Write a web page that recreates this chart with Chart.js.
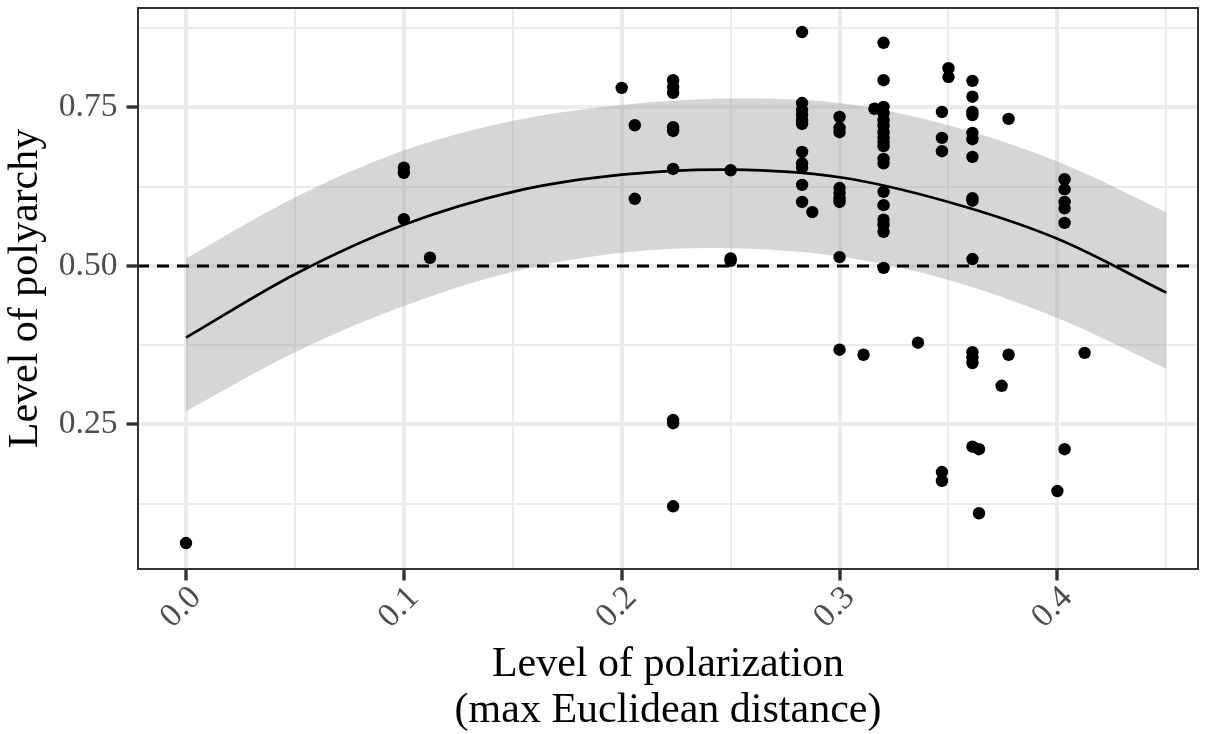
<!DOCTYPE html>
<html lang="en">
<head>
<meta charset="UTF-8" />
<title>Polarization and polyarchy</title>
<script src="https://cdn.jsdelivr.net/npm/chart.js"></script>
<style>
  body { margin: 0; background: #fff; }
  #wrap { width: 1214px; height: 734px; }
</style>
</head>
<body>
<div id="wrap"><canvas id="mainChart"></canvas></div>
<script>
  const polarization = [
    0.0,
    0.1, 0.1, 0.1,
    0.112,
    0.2,
    0.206, 0.206,
    0.2236, 0.2236, 0.2236, 0.2236, 0.2236, 0.2236, 0.2236, 0.2236, 0.2236,
    0.25, 0.25, 0.25,
    0.2828, 0.2828, 0.2828, 0.2828, 0.2828, 0.2828, 0.2828, 0.2828, 0.2828, 0.2828, 0.2828,
    0.2875,
    0.3, 0.3, 0.3, 0.3, 0.3, 0.3, 0.3, 0.3, 0.3,
    0.311,
    0.316,
    0.3202, 0.3202, 0.3202, 0.3202, 0.3202, 0.3202, 0.3202, 0.3202, 0.3202,
    0.3202, 0.3202, 0.3202, 0.3202, 0.3202, 0.3202, 0.3202, 0.3202, 0.3202,
    0.336,
    0.347, 0.347, 0.347, 0.347, 0.347,
    0.350, 0.350,
    0.361, 0.361, 0.361, 0.361, 0.361, 0.361, 0.361, 0.361, 0.361, 0.361, 0.361, 0.361, 0.361, 0.361,
    0.364, 0.364,
    0.3744,
    0.3776, 0.3776,
    0.400,
    0.4033, 0.4033, 0.4033, 0.4033, 0.4033, 0.4033,
    0.4125
  ];
  const polyarchy = [
    0.063,
    0.655, 0.647, 0.574,
    0.513,
    0.781,
    0.722, 0.606,
    0.793, 0.782, 0.773, 0.719, 0.713, 0.653, 0.257, 0.252, 0.121,
    0.651, 0.512, 0.508,
    0.869, 0.757, 0.746, 0.738, 0.730, 0.724, 0.680, 0.662, 0.655, 0.628, 0.601,
    0.585,
    0.735, 0.718, 0.711, 0.623, 0.615, 0.607, 0.601, 0.514, 0.368,
    0.360,
    0.748,
    0.852, 0.793, 0.751, 0.741, 0.730, 0.721, 0.711, 0.703, 0.696,
    0.689, 0.669, 0.662, 0.617, 0.596, 0.573, 0.565, 0.554, 0.497,
    0.379,
    0.743, 0.702, 0.681, 0.175, 0.161,
    0.812, 0.798,
    0.792, 0.767, 0.743, 0.738, 0.710, 0.700, 0.672, 0.607, 0.603, 0.511, 0.364, 0.356, 0.347, 0.215,
    0.211, 0.110,
    0.311,
    0.732, 0.360,
    0.145,
    0.637, 0.621, 0.601, 0.591, 0.568, 0.211,
    0.363
  ];

  // quadratic fit and its band, read at a few x positions
  const fitX     = [0.00, 0.05, 0.10, 0.15, 0.20, 0.25, 0.30, 0.35, 0.40, 0.45];
  const fitY     = [0.387, 0.487, 0.565, 0.617, 0.644, 0.652, 0.640, 0.601, 0.543, 0.458];
  const fitLower = [0.271, 0.364, 0.437, 0.491, 0.521, 0.528, 0.515, 0.478, 0.418, 0.338];
  const fitUpper = [0.512, 0.608, 0.682, 0.729, 0.754, 0.764, 0.757, 0.722, 0.665, 0.585];

  const threshold = 0.5;

  const xRange = [-0.0225, 0.4650];
  const yRange = [0.0205, 0.9085];
  const xTicks = [0, 0.05, 0.1, 0.15, 0.2, 0.25, 0.3, 0.35, 0.4, 0.45];
  const xMajor = [0, 0.1, 0.2, 0.3, 0.4];
  const yTicks = [0.125, 0.25, 0.375, 0.5, 0.625, 0.75, 0.875];
  const yMajor = [0.25, 0.5, 0.75];

  const serif = 'Liberation Serif';
  const isIn = (v, list) => list.some(m => Math.abs(m - v) < 1e-9);
  const xy = (xs, ys) => xs.map((x, i) => ({ x, y: ys[i] }));

  const panelBorder = {
    id: 'panelBorder',
    afterDraw(chart) {
      const { ctx, chartArea: a } = chart;
      ctx.save();
      ctx.strokeStyle = '#333333';
      ctx.lineWidth = 2;
      ctx.strokeRect(a.left + 1, a.top + 1, a.right - a.left - 2, a.bottom - a.top - 2);
      ctx.restore();
    }
  };

  function gridFor(major) {
    return {
      color: '#EBEBEB',
      lineWidth: c => (c.tick && isIn(c.tick.value, major)) ? 4 : 2,
      tickLength: 10.5,
      tickWidth: 3.4,
      tickColor: c => (c.tick && isIn(c.tick.value, major)) ? '#333333' : 'rgba(0,0,0,0)'
    };
  }

  // no extra room for half-labels at the ends; the panel box is fixed
  function fixBox(s, size) {
    if (s.isHorizontal()) s.height = size; else s.width = size;
    s.paddingTop = 0;
    s.paddingBottom = 0;
    s.paddingLeft = 0;
    s.paddingRight = 0;
  }

  const smooth = 0.33;
  const bandLine = { borderColor: 'rgba(0,0,0,0)', borderWidth: 0, pointRadius: 0, tension: smooth };

  const ctx = document.getElementById('mainChart').getContext('2d');
  new Chart(ctx, {
    type: 'scatter',
    data: {
      datasets: [
        {
          label: 'countries',
          data: xy(polarization, polyarchy),
          backgroundColor: '#000',
          borderWidth: 0,
          pointRadius: 6.2,
          pointHoverRadius: 6.2,
          order: 0
        },
        {
          type: 'line',
          label: 'fit',
          data: xy(fitX, fitY),
          borderColor: '#000',
          borderWidth: 2.7,
          pointRadius: 0,
          tension: smooth,
          fill: false,
          order: 1
        },
        {
          type: 'line',
          label: 'threshold',
          data: xy(xRange, [threshold, threshold]),
          borderColor: '#000',
          borderWidth: 3,
          borderDash: [12, 8],
          pointRadius: 0,
          fill: false,
          order: 2
        },
        Object.assign({ type: 'line', label: 'lower', data: xy(fitX, fitLower), fill: false, order: 4 }, bandLine),
        Object.assign({
          type: 'line', label: 'upper', data: xy(fitX, fitUpper),
          fill: '-1', backgroundColor: 'rgba(153,153,153,0.4)', order: 3
        }, bandLine)
      ]
    },
    options: {
      responsive: true,
      maintainAspectRatio: false,
      animation: false,
      layout: { padding: { top: 7, right: 15, left: 0, bottom: 0 } },
      plugins: {
        legend: { display: false },
        tooltip: { enabled: false }
      },
      scales: {
        x: {
          type: 'linear',
          min: xRange[0],
          max: xRange[1],
          afterBuildTicks: s => { s.ticks = xTicks.map(v => ({ value: v })); },
          afterFit: s => fixBox(s, 164),
          border: { display: false },
          grid: gridFor(xMajor),
          ticks: {
            autoSkip: false,
            minRotation: 45,
            maxRotation: 45,
            padding: -2,
            labelOffset: 10,
            color: '#4D4D4D',
            font: { family: serif, size: 33.6 },
            callback: v => isIn(v, xMajor) ? v.toFixed(1) : ''
          },
          title: {
            display: true,
            text: ['Level of polarization', '(max Euclidean distance)'],
            color: '#000',
            font: { family: serif, size: 42, lineHeight: 1.1 },
            padding: { top: 0, bottom: 0 }
          }
        },
        y: {
          type: 'linear',
          min: yRange[0],
          max: yRange[1],
          afterBuildTicks: s => { s.ticks = yTicks.map(v => ({ value: v })); },
          afterFit: s => fixBox(s, 137),
          border: { display: false },
          grid: gridFor(yMajor),
          ticks: {
            padding: 9,
            color: '#4D4D4D',
            font: { family: serif, size: 33.6 },
            callback: v => isIn(v, yMajor) ? v.toFixed(2) : ''
          },
          title: {
            display: true,
            text: 'Level of polyarchy',
            color: '#000',
            font: { family: serif, size: 42, lineHeight: 1.1 },
            padding: { top: 3, bottom: 0 }
          }
        }
      }
    },
    plugins: [panelBorder]
  });
</script>
</body>
</html>
